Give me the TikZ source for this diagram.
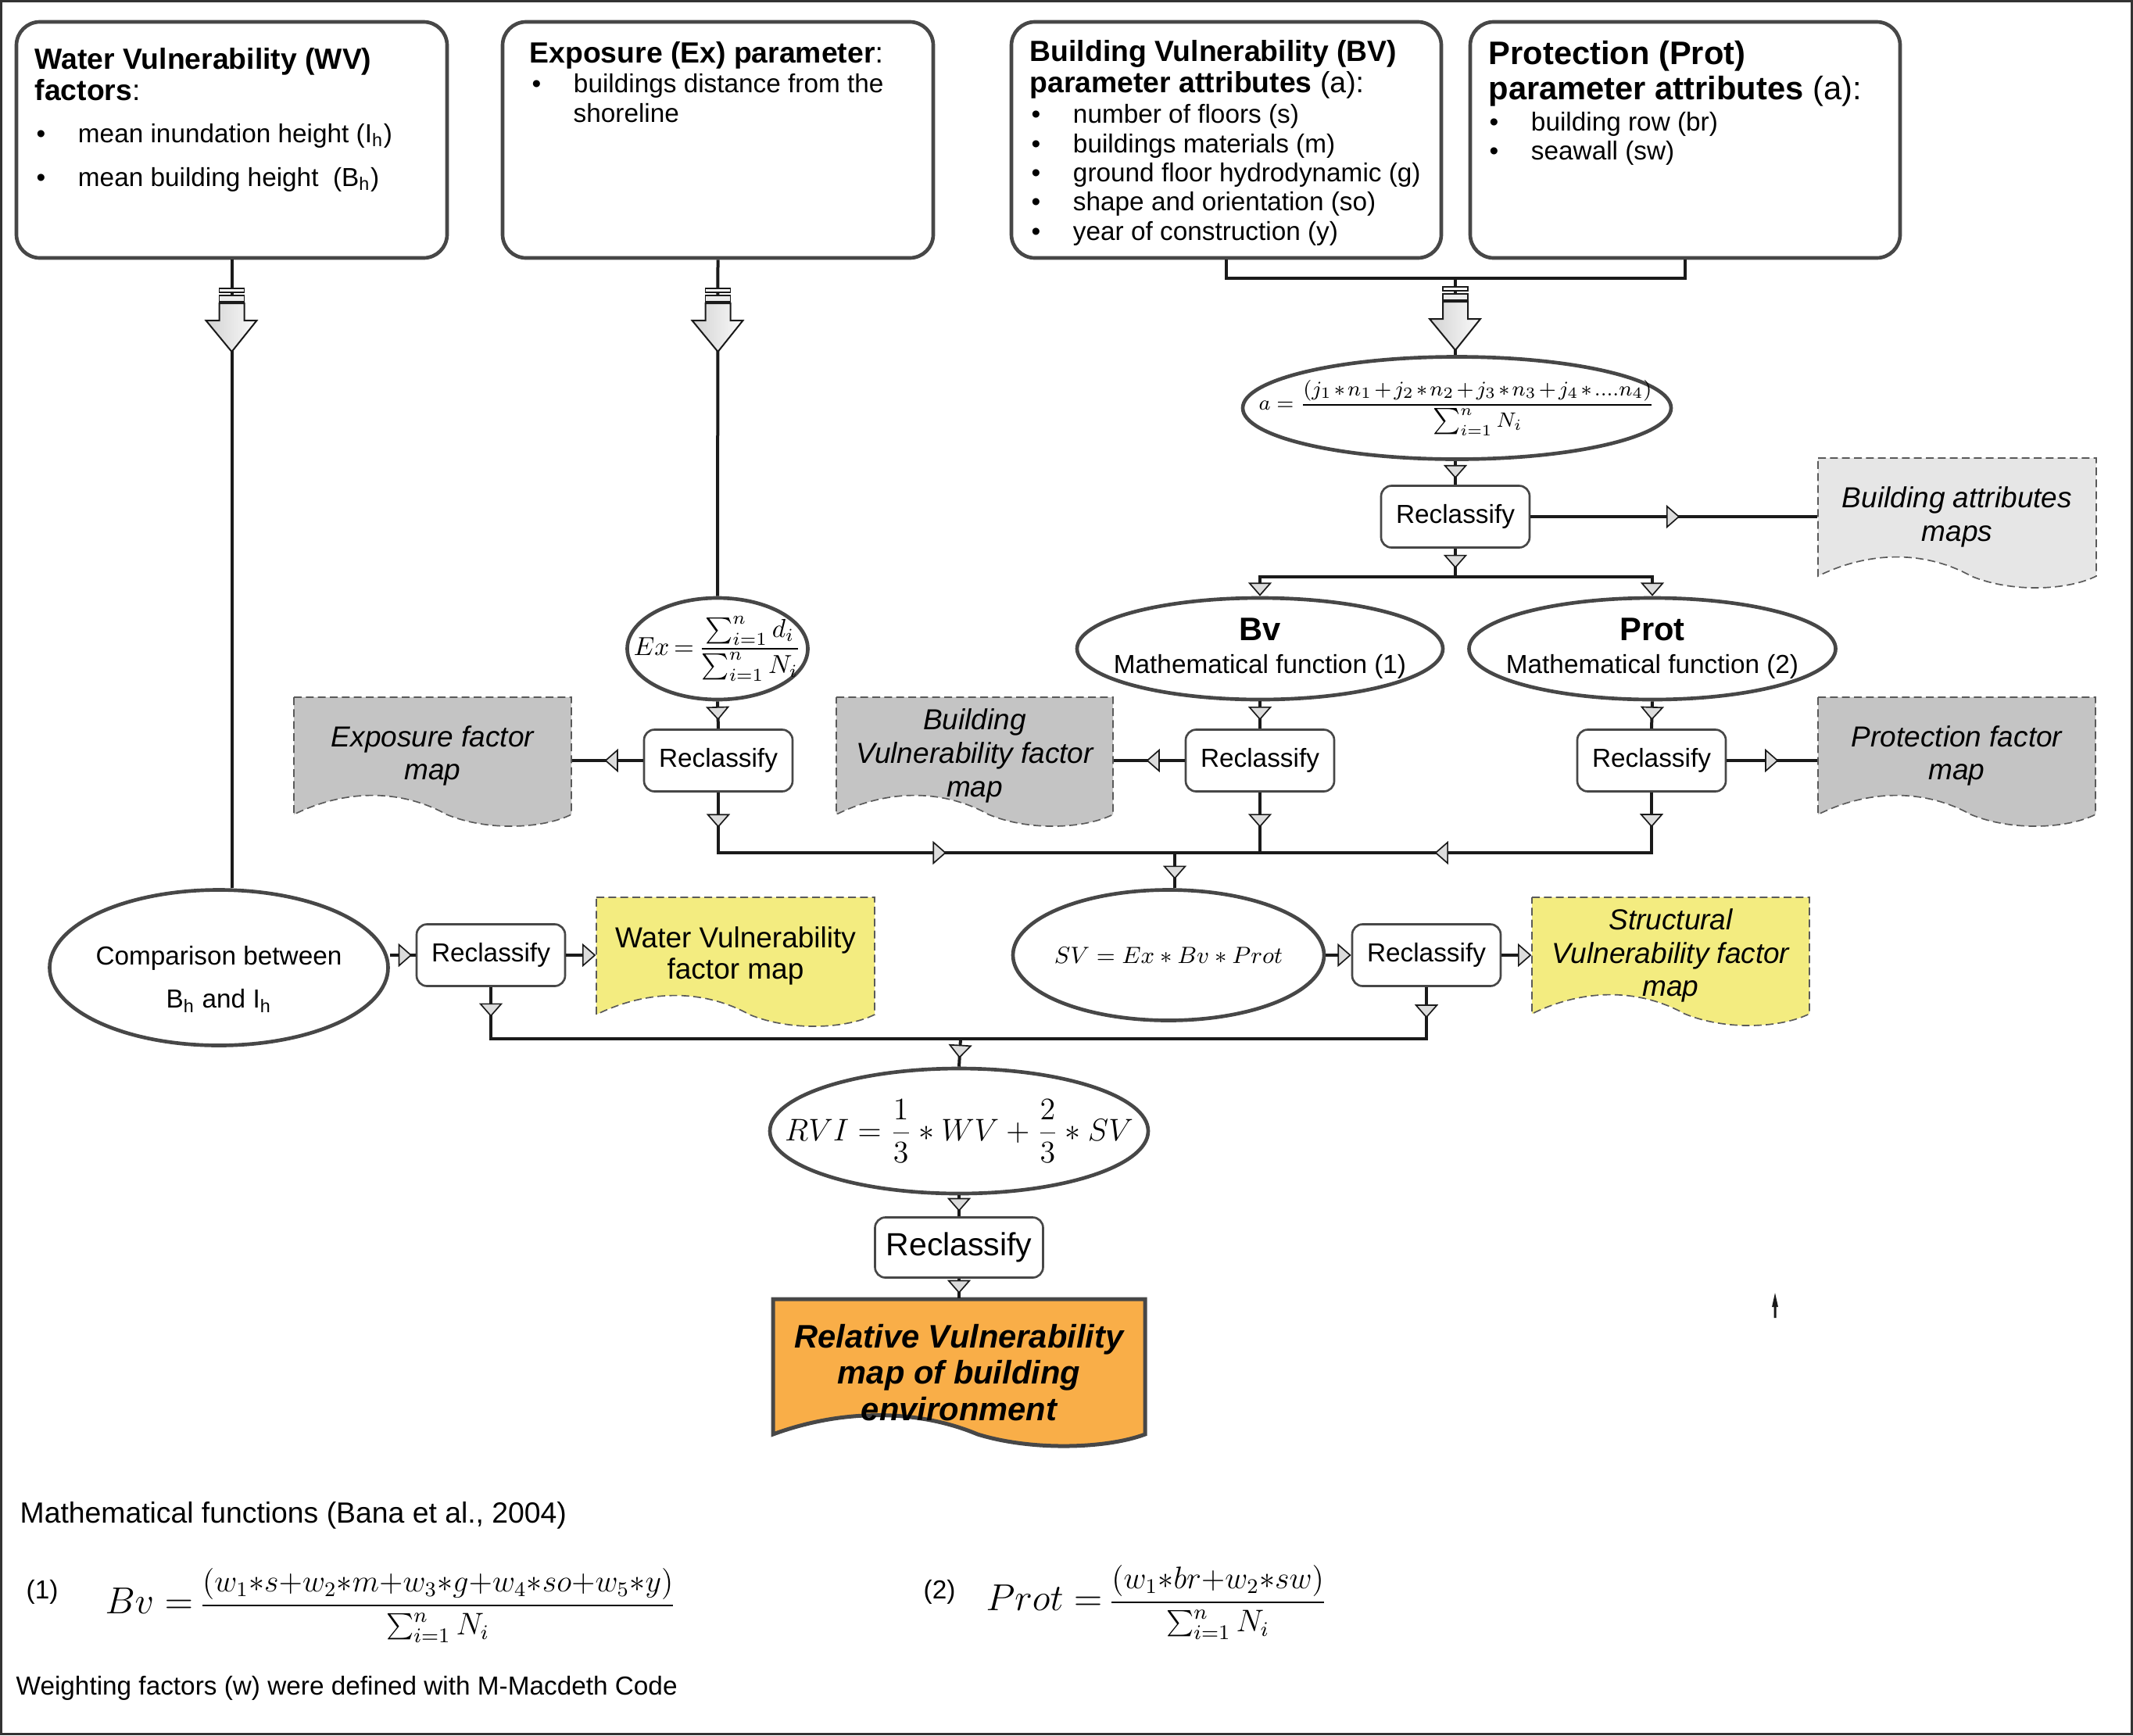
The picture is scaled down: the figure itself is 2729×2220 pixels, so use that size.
\documentclass[tikz,border=0pt]{standalone}
\usepackage{fontspec}
\setmainfont{Liberation Sans}
\usetikzlibrary{shapes.geometric,arrows.meta,decorations.markings}
\definecolor{lncol}{HTML}{1A1A1A}
\definecolor{bordcol}{HTML}{474747}
\definecolor{dashcol}{HTML}{5A5A5A}
\definecolor{greydoc}{HTML}{C4C4C4}
\definecolor{lightdoc}{HTML}{E6E6E6}
\definecolor{yellowdoc}{HTML}{F3EC80}
\definecolor{orangedoc}{HTML}{F9AE48}
\definecolor{arrfill}{HTML}{DCDCDC}
\newcommand\docpath[5]{%
  \path[#5] (#1,#2) -- (#3,#2) -- (#3,#4)
    .. controls ({#1+0.9*(#3-#1)},{#4+18}) and ({#1+0.7*(#3-#1)},{#4+22}) .. ({#1+0.55*(#3-#1)},#4)
    .. controls ({#1+0.4*(#3-#1)},{#4-30}) and ({#1+0.2*(#3-#1)},{#4-35}) .. (#1,#4) -- cycle;}
\newcommand\tightmath{\medmuskip=2mu}
\newcommand\tighterm{\medmuskip=2mu\thickmuskip=3mu}
\begin{document}
\begin{tikzpicture}[x=0.3pt,y=-0.3pt,
  Tri/.tip={Triangle[width=9pt,length=5.2pt,fill=arrfill,line width=0.5pt]},
  am/.style={postaction={decorate},decoration={markings,mark=at position #1 with {\arrow{Tri}}}},
  amm/.style 2 args={postaction={decorate},decoration={markings,mark=at position #1 with {\arrow{Tri}},mark=at position #2 with {\arrow{Tri}}}},
  conn/.style={draw=lncol,color=lncol,line width=1.2pt},
  bus/.style={draw=lncol,color=lncol,line width=1.45pt},
  sz/.style 2 args={minimum width={#1*0.3pt},minimum height={#2*0.3pt}},
  topbox/.style={draw=bordcol,line width=1.4pt,rounded corners=9pt,fill=white,inner sep=0pt},
  ell/.style={ellipse,draw=bordcol,line width=1.4pt,fill=white,inner sep=0pt},
  lbl/.style={inner sep=0pt,align=center,font=\fontsize{10}{12}\selectfont},
  rcl/.style={draw=bordcol,line width=0.8pt,rounded corners=4pt,fill=white,inner sep=0pt,
    minimum width=57pt,minimum height=23.7pt,font=\fontsize{10}{12}\selectfont},
  ttl/.style={anchor=base west,inner sep=0pt,font=\fontsize{11.2}{13}\selectfont},
  ttlb/.style={anchor=base west,inner sep=0pt,font=\fontsize{12.5}{14}\selectfont},
  itm/.style={anchor=base west,inner sep=0pt,font=\fontsize{10}{12}\selectfont},
  doctxt/.style={inner sep=0pt,align=center,font=\fontsize{11.1}{12.8}\selectfont\itshape},
  dashdoc/.style={draw=dashcol,line width=0.5pt,dash pattern=on 3pt off 1.6pt},
  bigarr/.pic={
    \draw[lncol,line width=0.5pt,fill=white] (-16,0) rectangle (16,5);
    \draw[lncol,line width=0.5pt,fill=gray!15] (-16,9) rectangle (16,17);
    \draw[lncol,line width=0.6pt,left color=gray!35,right color=gray!4]
      (-16,19) -- (16,19) -- (16,41) -- (32,41) -- (0,81) -- (-33,41) -- (-16,41) -- cycle;
  }]
\useasboundingbox (0,0) rectangle (2729,2220);

% ---------- top boxes ----------
\node[topbox,sz={551}{302}] (wv) at (296.5,179) {};
\node[topbox,sz={551}{302}] (ex) at (918.5,179) {};
\node[topbox,sz={550}{302}] (bv) at (1569,179) {};
\node[topbox,sz={550}{302}] (prot) at (2156,179) {};

\node[ttl] (wvt1) at (44,88) {\textbf{Water Vulnerability (WV)}};
\node[ttl] (wvt2) at (44,128) {\textbf{factors}:};
\node[itm] (wvi1) at (46,182) {\makebox[16pt][l]{•}mean inundation height (I\textsubscript{h})};
\node[itm] (wvi2) at (46,238) {\makebox[16pt][l]{•}mean building height\ \ (B\textsubscript{h})};

\node[ttl] (ext1) at (677,80) {\textbf{Exposure (Ex) parameter}:};
\node[itm] (exi1) at (680,118) {\makebox[16pt][l]{•}buildings distance from the};
\node[itm] (exi2) at (733,156) {shoreline};

\node[ttl] (bvt1) at (1317,78) {\textbf{Building Vulnerability (BV)}};
\node[ttl] (bvt2) at (1317,118) {\textbf{parameter attributes} (a):};
\node[itm] (bvi1) at (1319,157) {\makebox[16pt][l]{•}number of floors (s)};
\node[itm] (bvi2) at (1319,195) {\makebox[16pt][l]{•}buildings materials (m)};
\node[itm] (bvi3) at (1319,232) {\makebox[16pt][l]{•}ground floor hydrodynamic (g)};
\node[itm] (bvi4) at (1319,269) {\makebox[16pt][l]{•}shape and orientation (so)};
\node[itm] (bvi5) at (1319,307) {\makebox[16pt][l]{•}year of construction (y)};

\node[ttlb] (prt1) at (1904,82) {\textbf{Protection (Prot)}};
\node[ttlb] (prt2) at (1904,127) {\textbf{parameter attributes} (a):};
\node[itm] (pri1) at (1905,167) {\makebox[16pt][l]{•}building row (br)};
\node[itm] (pri2) at (1905,204) {\makebox[16pt][l]{•}seawall (sw)};

% ---------- ellipses ----------
\node[ell,sz={548}{131},label={[lbl,font=\fontsize{8}{10}\selectfont]center:$\tightmath\displaystyle a=\frac{(j_1*n_1+j_2*n_2+j_3*n_3+j_4*{....}n_4)}{\sum_{i=1}^{n}N_i}$}] (aell) at (1864,522) {};
\node[ell,sz={468}{130},label={[lbl]center:{\fontsize{12.5}{14}\selectfont\bfseries Bv}\\[0.6pt]Mathematical function (1)}] (bvell) at (1612,830) {};
\node[ell,sz={469}{130},label={[lbl]center:{\fontsize{12.5}{14}\selectfont\bfseries Prot}\\[0.6pt]Mathematical function (2)}] (protell) at (2114,830) {};
\node[ell,sz={231}{130},label={[lbl,font=\fontsize{10}{12}\selectfont]center:$\tighterm\displaystyle Ex=\frac{\sum_{i=1}^{n} d_i}{\sum_{i=1}^{n} N_i}$}] (exell) at (918,830) {};
\node[ell,sz={433}{199},label={[lbl,yshift=-4.5pt]center:Comparison between\\[4.5pt]B\textsubscript{h} and I\textsubscript{h}}] (cmp) at (280,1238) {};
\node[ell,sz={398}{167},label={[lbl,font=\fontsize{9}{11}\selectfont]center:$SV=Ex*Bv*Prot$}] (svell) at (1495,1222) {};
\node[ell,sz={484}{160},label={[lbl,font=\fontsize{12}{14}\selectfont]center:$\displaystyle RVI=\frac{1}{3}*WV+\frac{2}{3}*SV$}] (rvi) at (1227,1447) {};

% ---------- reclassify boxes ----------
\node[rcl] (r1) at (1862,661) {Reclassify};
\node[rcl] (exr) at (919,973) {Reclassify};
\node[rcl] (bvr) at (1612,973) {Reclassify};
\node[rcl] (protr) at (2113,973) {Reclassify};
\node[rcl] (wvr) at (628,1222) {Reclassify};
\node[rcl] (svr) at (1825,1222) {Reclassify};
\node[rcl,minimum width=64.5pt,minimum height=23.1pt,font=\fontsize{12.3}{14}\selectfont] (rf) at (1227,1596) {Reclassify};

% ---------- documents ----------
\docpath{2326}{586}{2682}{737}{dashdoc,fill=lightdoc}
\node[doctxt,sz={356}{151}] (attrdoc) at (2504,661.5) {Building attributes\\maps};
\docpath{376}{892}{731}{1042}{dashdoc,fill=greydoc}
\node[doctxt,sz={355}{150}] (expdoc) at (553.5,967) {Exposure factor\\map};
\docpath{1070}{892}{1424}{1042}{dashdoc,fill=greydoc}
\node[doctxt,sz={354}{150}] (bvdoc) at (1247,967) {Building\\Vulnerability factor\\map};
\docpath{2326}{892}{2681}{1042}{dashdoc,fill=greydoc}
\node[doctxt,sz={355}{150}] (protdoc) at (2503.5,967) {Protection factor\\map};
\docpath{763}{1148}{1119}{1298}{dashdoc,fill=yellowdoc}
\node[doctxt,font=\fontsize{11.1}{12}\selectfont,sz={356}{150}] (wvdoc) at (941,1223) {Water Vulnerability\\factor map};
\docpath{1960}{1148}{2315}{1297}{dashdoc,fill=yellowdoc}
\node[doctxt,sz={355}{149}] (svdoc) at (2137.5,1222.5) {Structural\\Vulnerability factor\\map};
\docpath{989}{1662}{1465}{1835}{draw=bordcol,line width=1.5pt,fill=orangedoc}
\node[sz={476}{173},inner sep=0pt,label={[doctxt,font=\fontsize{12.5}{13.9}\selectfont\bfseries\itshape,yshift=-2.2pt]center:Relative Vulnerability\\map of building\\environment}] (outdoc) at (1227,1748.5) {};

% ---------- junctions ----------
\coordinate (jtop) at (1862,356);
\coordinate (jsplit) at (1862,738);
\coordinate (jmid) at (1503,1091);
\coordinate (jbv) at (1612,1091);
\coordinate (jlow) at (1229,1329);

% ---------- connectors ----------
\draw[conn] (wv.south) -- (wv.south |- cmp.north);
\draw[conn] (ex.south) -- (exell.north);
\draw[bus] (bv.south) |- (jtop);
\draw[bus] (prot.south) |- (jtop);
\draw[conn] (jtop) -- (jtop |- aell.north);
\draw[conn,am=0.74] (r1.north |- aell.south) -- (r1.north);
\draw[conn,am=0.7] (r1.south) -- (jsplit);
\draw[bus,-{Tri}] (jsplit) -| (bvell.north);
\draw[bus,-{Tri}] (jsplit) -| (protell.north);
\draw[bus,am=0.52] (r1.east) -- (attrdoc.west |- r1.east);
\draw[conn,am=0.69] (exell.south) -- (exr.north);
\draw[conn,am=0.69] (bvell.south) -- (bvr.north);
\draw[conn,am=0.69] (protell.south) -- (protr.north);
\draw[bus,am=0.54] (exr.west) -- (expdoc.east |- exr.west);
\draw[bus,am=0.54] (bvr.west) -- (bvdoc.east |- bvr.west);
\draw[bus,am=0.57] (protr.east) -- (protdoc.west |- protr.east);
\draw[bus,amm={0.068}{0.558}] (exr.south) |- (jmid);
\draw[bus,amm={0.065}{0.516}] (protr.south) |- (jmid);
\draw[bus,am=0.58] (bvr.south) -- (jbv);
\draw[conn,am=0.75] (jmid) -- (jmid |- svell.north);
\draw[bus,am=0.86] (cmp.east |- wvr.west) -- (wvr.west);
\draw[bus,-{Tri}] (wvr.east) -- (wvdoc.west |- wvr.east);
\draw[bus,-{Tri}] (svell.east) -- (svr.west);
\draw[bus,-{Tri}] (svr.east) -- (svdoc.west |- svr.east);
\draw[bus,am=0.057] (wvr.south) |- (jlow);
\draw[bus,am=0.06] (svr.south) |- (jlow);
\draw[conn,am=0.7] (jlow) -- (rvi.north);
\draw[conn,am=0.77] (rvi.south) -- (rf.north);
\draw[conn,am=0.75] (rf.south) -- (outdoc.north);

% ---------- big arrows ----------
\pic at (296.5,369) {bigarr};
\pic at (918.5,369) {bigarr};
\pic at (1862,367) {bigarr};

% ---------- stray small arrow ----------
\fill[lncol] (2271,1654) -- (2275,1672) -- (2272.5,1672) -- (2272.5,1686) -- (2269.5,1686) -- (2269.5,1672) -- (2267,1672) -- cycle;

% ---------- bottom notes ----------
\node[ttl] (mf) at (25,1948) {Mathematical functions (Bana et al., 2004)};
\node[itm] (n1) at (33,2045) {(1)};
\node[anchor=base west,inner sep=0pt] (f1) at (134,2064) {{\fontsize{14.5}{16}\selectfont$Bv=\,$}{\fontsize{12}{14}\selectfont$\displaystyle\frac{(w_1{*}s{+}w_2{*}m{+}w_3{*}g{+}w_4{*}so{+}w_5{*}y)}{\sum_{i=1}^{n}N_i}$}};
\node[itm] (n2) at (1181,2045) {(2)};
\node[anchor=base west,inner sep=0pt] (f2) at (1261,2060) {{\fontsize{13.5}{16}\selectfont$Prot=\,$}{\fontsize{11.5}{14}\selectfont$\displaystyle\frac{(w_1{*}br{+}w_2{*}sw)}{\sum_{i=1}^{n}N_i}$}};
\node[itm] (wf) at (20,2168) {Weighting factors (w) were defined with M-Macdeth Code};

% ---------- frame ----------
\draw[line width=0.8pt,draw=black!80] (1.5,1.5) rectangle (2727.5,2218.5);
\end{tikzpicture}
\end{document}
